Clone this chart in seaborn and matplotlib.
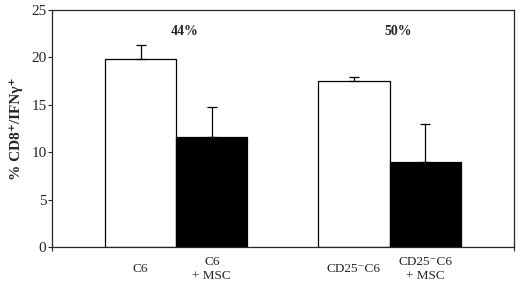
import pandas as pd
import numpy as np
import matplotlib
matplotlib.use("Agg")
import matplotlib.pyplot as plt
import seaborn as sns

# datos
grupos = ["C6", "CD25⁻C6"]
condiciones = ["control", "MSC"]
valores = [19.8, 11.6, 17.5, 9.0]      # C6, C6+MSC, CD25-C6, CD25-C6+MSC
errores = [1.5, 3.2, 0.4, 4.0]
etiquetas = ["C6", "C6\n+ MSC", "CD25⁻C6", "CD25⁻C6\n+ MSC"]
porcentajes = ["44%", "50%"]

df = pd.DataFrame({
    "grupo": [g for g in grupos for c in condiciones],
    "cond": [c for g in grupos for c in condiciones],
    "valor": valores,
})

sns.set_style("ticks")
plt.rcParams["font.family"] = ["Liberation Serif", "DejaVu Serif"]

fig = plt.figure(figsize=(5.2, 2.83), dpi=100)
ax = fig.add_axes([0.1, 0.127, 0.888, 0.838])

sns.barplot(data=df, x="grupo", y="valor", hue="cond", order=grupos,
            hue_order=condiciones, palette={"control": "white", "MSC": "black"},
            edgecolor="black", linewidth=0.9, width=0.667, legend=False,
            errorbar=None, ax=ax)

# barras ordenadas de izquierda a derecha
barras = sorted(ax.patches, key=lambda p: p.get_x())
centros = [p.get_x() + p.get_width() / 2 for p in barras]
ax.errorbar(centros, valores, yerr=[np.zeros(len(errores)), errores],
            fmt="none", ecolor="black", elinewidth=0.9, capsize=3.3, capthick=0.9)

for i, txt in enumerate(porcentajes):
    ax.text(i + 0.04, 22.7, txt, ha="center", va="center",
            fontsize=10, fontweight="bold")

ax.set_xlim(-0.582, 1.582)
ax.set_ylim(0, 25)
ax.set_yticks([0, 5, 10, 15, 20, 25])
ax.set_xticks(centros, etiquetas)
for lbl in ax.get_xticklabels():
    lbl.set_va("center")
ax.set_xticks([-0.582, 1.582], minor=True)
ax.tick_params(axis="x", which="major", length=0, pad=16, labelsize=9.5)
ax.tick_params(axis="x", which="minor", length=3, width=0.8)
ax.tick_params(axis="y", length=3, width=0.8, labelsize=11, pad=1)
ax.set_xlabel("")
ax.set_ylabel("% CD8⁺/IFNγ⁺", fontsize=11, fontweight="bold", labelpad=6)
for s in ax.spines.values():
    s.set_linewidth(0.9)
    s.set_visible(True)

fig.savefig("out.png", dpi=100)
